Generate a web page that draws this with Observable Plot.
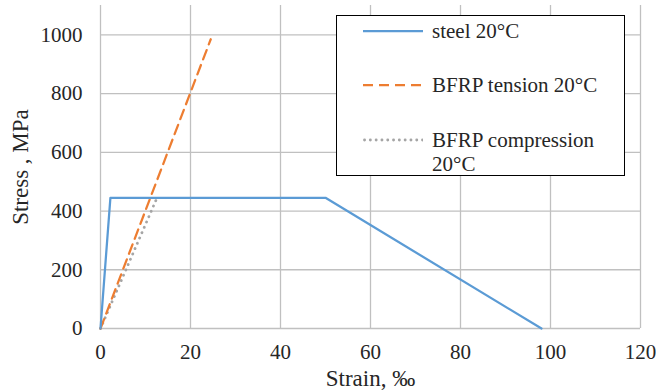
<!DOCTYPE html>
<html>
<head>
<meta charset="utf-8">
<script src="https://cdn.jsdelivr.net/npm/d3@7"></script>
<script src="https://cdn.jsdelivr.net/npm/@observablehq/plot@0.6"></script>
<style>
  html, body { margin: 0; padding: 0; background: #fff; }
  #wrap { position: relative; width: 656px; height: 392px; font-family: "Liberation Serif", Tinos, "Times New Roman", Times, "DejaVu Serif", serif; color: #262626; }
  #wrap svg text { font-family: "Liberation Serif", Tinos, "Times New Roman", Times, "DejaVu Serif", serif; }
  #legend { position: absolute; left: 336px; top: 15px; width: 289px; height: 161px; border: 1.5px solid #000; background: #fff; box-sizing: border-box; }
  .row { position: absolute; left: 26px; font-size: 21px; line-height: 24px; display: flex; align-items: flex-start; }
  .row svg { width: 60px; height: 24px; margin-right: 9px; flex: none; }
  svg g[aria-label="x-axis label"] text, svg g[aria-label="y-axis label"] text { font-size: 23px; }
</style>
</head>
<body>
<div id="wrap"></div>
<script>
const strainTicks = [0, 20, 40, 60, 80, 100, 120];
const stressTicks = [0, 200, 400, 600, 800, 1000];

const steelStrain = [0, 2.2, 50, 98];
const steelStress = [0, 445, 445, 0];
const tensionStrain = [0, 24.5];
const tensionStress = [0, 985];
const compStrain = [0, 12.7];
const compStress = [0, 450];

const seriesNames = ["steel 20°C", "BFRP tension 20°C", "BFRP compression 20°C"];
const seriesColors = ["#5B9BD5", "#ED7D31", "#A5A5A5"];

const toRows = (xs, ys) => xs.map((x, i) => ({strain: x, stress: ys[i]}));
const steel = toRows(steelStrain, steelStress);
const tension = toRows(tensionStrain, tensionStress);
const comp = toRows(compStrain, compStress);

const gridColor = "#C0C0C0";
const serif = "'Liberation Serif', Tinos, 'Times New Roman', Times, 'DejaVu Serif', serif";

const chart = Plot.plot({
  width: 656,
  height: 392,
  marginLeft: 100,
  marginRight: 16,
  marginTop: 5,
  marginBottom: 64,
  style: { fontFamily: serif, fontSize: "21px", color: "#262626", background: "#fff" },
  x: { domain: [0, 120] },
  y: { domain: [0, 1100] },
  marks: [
    Plot.gridX(strainTicks, { stroke: gridColor, strokeOpacity: 1, strokeWidth: 1.3 }),
    Plot.gridY(stressTicks, { stroke: gridColor, strokeOpacity: 1, strokeWidth: 1.3 }),
    Plot.axisX({ ticks: strainTicks, tickFormat: d => String(d), tickSize: 0, tickPadding: 16, label: "Strain, ‰", labelAnchor: "center", labelArrow: "none", labelOffset: 57 }),
    Plot.axisY({ ticks: stressTicks, tickFormat: d => String(d), tickSize: 0, tickPadding: 18, label: "Stress , MPa", labelAnchor: "center", labelArrow: "none", labelOffset: 89 }),
    Plot.line(comp, { x: "strain", y: "stress", stroke: seriesColors[2], strokeWidth: 2.8, strokeLinecap: "round", strokeDasharray: "0.1,5.7" }),
    Plot.line(tension, { x: "strain", y: "stress", stroke: seriesColors[1], strokeWidth: 2.25, strokeDasharray: "10,6" }),
    Plot.line(steel, { x: "strain", y: "stress", stroke: seriesColors[0], strokeWidth: 2.25 })
  ]
});

const wrap = document.getElementById("wrap");
wrap.appendChild(chart);

const legend = document.createElement("div");
legend.id = "legend";
const dashes = ["none", "10,6", "0.1,5.7"];
const tops = [3, 57, 112];
seriesNames.forEach((name, i) => {
  const row = document.createElement("div");
  row.className = "row";
  row.style.top = tops[i] + "px";
  const label = i === 2 ? "BFRP compression<br>20°C" : name;
  row.innerHTML = `<svg viewBox="0 0 60 24"><line x1="${i === 2 ? 1.5 : 0}" x2="60" y1="12" y2="12" stroke="${seriesColors[i]}" stroke-width="${i === 2 ? 2.8 : 2.25}" stroke-linecap="${i === 2 ? "round" : "butt"}" stroke-dasharray="${dashes[i]}"/></svg><span>${label}</span>`;
  legend.appendChild(row);
});
wrap.appendChild(legend);
</script>
</body>
</html>
